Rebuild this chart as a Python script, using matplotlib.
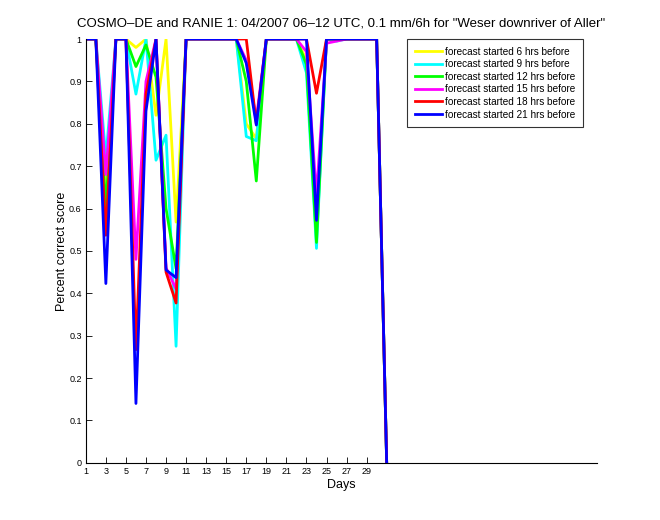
import matplotlib
matplotlib.use("Agg")
import matplotlib.pyplot as plt
import numpy as np

plt.rcParams['font.family'] = ['Liberation Sans', 'DejaVu Sans']

days = np.arange(1, 32)

# percent correct score per lead time
fc_6h = [1, 1, 0.62, 1, 1, 0.98, 1, 0.82, 1.0, 0.568,
         1, 1, 1, 1, 1, 1, 0.80, 0.765, 1, 1, 1, 1,
         0.95, 0.55, 1, 1, 1, 1, 1, 1, 0]
fc_9h = [1, 1, 0.72, 1, 1, 0.87, 1, 0.714, 0.773, 0.275,
         1, 1, 1, 1, 1, 1, 0.77, 0.76, 1, 1, 1, 1,
         0.92, 0.506, 1, 0.995, 1, 1, 1, 1, 0]
fc_12h = [1, 1, 0.60, 1, 1, 0.935, 0.986, 0.91, 0.60, 0.458,
          1, 1, 1, 1, 1, 1, 0.90, 0.665, 1, 1, 1, 1,
          0.94, 0.52, 1, 1, 1, 1, 1, 1, 0]
fc_15h = [1, 1, 0.68, 1, 1, 0.48, 0.90, 1, 0.46, 0.41,
          1, 1, 1, 1, 1, 1, 0.95, 0.81, 1, 1, 1, 1,
          0.97, 0.63, 0.99, 0.995, 1, 1, 1, 1, 0]
fc_18h = [1, 1, 0.537, 1, 1, 0.267, 0.87, 1, 0.45, 0.377,
          1, 1, 1, 1, 1, 1, 1.0, 0.80, 1, 1, 1, 1,
          1, 0.872, 1, 1, 1, 1, 1, 1, 0]
fc_21h = [1, 1, 0.423, 1, 1, 0.14, 0.83, 1, 0.455, 0.437,
          1, 1, 1, 1, 1, 1, 0.943, 0.797, 1, 1, 1, 1,
          1, 0.572, 1, 1, 1, 1, 1, 1, 0]

series = [fc_6h, fc_9h, fc_12h, fc_15h, fc_18h, fc_21h]
labels = ['forecast started 6 hrs before', 'forecast started 9 hrs before',
          'forecast started 12 hrs before', 'forecast started 15 hrs before',
          'forecast started 18 hrs before', 'forecast started 21 hrs before']
colors = ['#ffff00', '#00ffff', '#00ff00', '#ff00ff', '#ff0000', '#0000ff']

fig = plt.figure(figsize=(6.6, 5.2), dpi=100)
ax = fig.add_axes([0.13, 0.11, 0.775, 0.815])

for vals, lab, col in zip(series, labels, colors):
    ax.plot(days, vals, color=col, lw=2, label=lab)

ax.set_xlim(1, 52)
ax.set_ylim(0, 1)
ax.set_xticks(np.arange(1, 30, 2))
ax.set_yticks(np.arange(0, 1.01, 0.1))
ax.set_yticklabels(['0', '0.1', '0.2', '0.3', '0.4', '0.5', '0.6', '0.7', '0.8', '0.9', '1'])
ax.tick_params(direction='in', length=4, width=0.6, labelsize=6.5, pad=3)
ax.spines['top'].set_visible(False)
ax.spines['right'].set_visible(False)
for s in ('left', 'bottom'):
    ax.spines[s].set_linewidth(0.8)

ax.set_xlabel('Days', fontsize=9, labelpad=2)
ax.set_ylabel('Percent correct score', fontsize=9, labelpad=1)
ax.set_title('COSMO\u2013DE and RANIE 1: 04/2007 06\u201312 UTC, 0.1 mm/6h for "Weser downriver of Aller"',
             fontsize=9.5, pad=9)

leg = ax.legend(loc='upper right', bbox_to_anchor=(0.972, 1.0), borderaxespad=0,
                fontsize=7.2, frameon=True, fancybox=False, handlelength=2.7,
                handletextpad=0.35, labelspacing=0.26, borderpad=0.75)
leg.get_frame().set_edgecolor('black')
leg.get_frame().set_linewidth(0.8)

fig.savefig('out.png', dpi=100)
